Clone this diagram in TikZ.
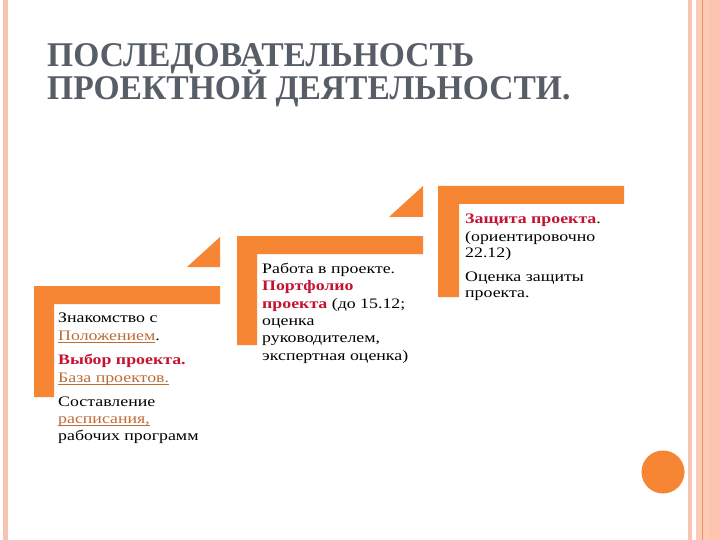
\documentclass[tikz,border=0pt]{standalone}
\usepackage{fontspec}
\usepackage{graphicx}
\newfontfamily\titlefont{Liberation Serif Bold}
\newfontfamily\bodyfont{Liberation Serif}
\definecolor{orng}{RGB}{246,134,52}
\definecolor{redb}{RGB}{196,18,48}
\definecolor{linkc}{RGB}{190,108,56}
\definecolor{titlegray}{RGB}{88,94,104}
\definecolor{stripe}{RGB}{247,196,180}
\definecolor{stripeb}{RGB}{252,202,182}
\definecolor{stripec}{RGB}{253,197,176}
\definecolor{stripeline}{RGB}{232,146,104}
\newsavebox{\lnkbox}
\newcommand{\lnk}[1]{\sbox{\lnkbox}{\color{linkc}#1}{\color{linkc}\rlap{\rule[-2.2pt]{\wd\lnkbox}{0.7pt}}}\usebox{\lnkbox}}
\newcommand{\hl}[1]{\textcolor{redb}{\titlefont #1}}
\newcommand{\sx}[1]{\scalebox{1.23}[1]{#1}}
\newcommand{\tx}[1]{\scalebox{0.967}[1]{#1}}
\tikzset{
  bodytxt/.style={anchor=base west, inner sep=0pt, font=\bodyfont\fontsize{14.5}{17}\selectfont},
  titletxt/.style={anchor=base west, inner sep=0pt, text=titlegray, font=\titlefont\fontsize{34.7}{40}\selectfont},
}
\begin{document}
\begin{tikzpicture}[x=1pt,y=-1pt]
\useasboundingbox (0,0) rectangle (720,540);
\fill[white] (0,0) rectangle (720,540);
% side stripes
\fill[stripe] (3.3,0) rectangle (8.3,540);
\fill[stripe] (688,0) rectangle (692,540);
\fill[stripeb] (696,0) rectangle (720,540);
\fill[stripec] (709,0) rectangle (720,540);
\fill[stripeline] (701.8,0) rectangle (702.8,540);
% title
\node[titletxt] (t1) at (47,67) {\tx{ПОСЛЕДОВАТЕЛЬНОСТЬ}};
\node[titletxt] (t2) at (47,100) {\tx{ПРОЕКТНОЙ ДЕЯТЕЛЬНОСТИ.}};
% step 1
\fill[orng] (34,397) -- (34,286) -- (220,286) -- (220,304) -- (54,304) -- (54,397) -- cycle;
\fill[orng] (187,267) -- (220,267) -- (220,237) -- cycle;
% step 2
\fill[orng] (237,345) -- (237,236) -- (423,236) -- (423,254) -- (257,254) -- (257,345) -- cycle;
\fill[orng] (389,217) -- (423,217) -- (423,186) -- cycle;
% step 3
\fill[orng] (438,297) -- (438,186) -- (624,186) -- (624,204) -- (459,204) -- (459,297) -- cycle;
% circle
\fill[orng] (663,472) circle (21.5);
% texts box 1
\node[bodytxt] (a1) at (58,322) {\sx{Знакомство с}};
\node[bodytxt] (a2) at (58,340) {\sx{\lnk{Положением}.}};
\node[bodytxt] (a3) at (58,364) {\sx{\hl{Выбор проекта.}}};
\node[bodytxt] (a4) at (58,382) {\sx{\lnk{База проектов.}}};
\node[bodytxt] (a5) at (58,406) {\sx{Составление}};
\node[bodytxt] (a6) at (58,423) {\sx{\lnk{расписания,}}};
\node[bodytxt] (a7) at (58,440) {\sx{рабочих программ}};
% texts box 2
\node[bodytxt] (b1) at (262,273) {\sx{Работа в проекте.}};
\node[bodytxt] (b2) at (262,290) {\sx{\hl{Портфолио}}};
\node[bodytxt] (b3) at (262,308) {\sx{\hl{проекта} (до 15.12;}};
\node[bodytxt] (b4) at (262,325) {\sx{оценка}};
\node[bodytxt] (b5) at (262,342) {\sx{руководителем,}};
\node[bodytxt] (b6) at (262,360) {\sx{экспертная оценка)}};
% texts box 3
\node[bodytxt] (c1) at (465,223) {\sx{\hl{Защита проекта}.}};
\node[bodytxt] (c2) at (465,241) {\sx{(ориентировочно}};
\node[bodytxt] (c3) at (465,257) {\sx{22.12)}};
\node[bodytxt] (c4) at (465,281) {\sx{Оценка защиты}};
\node[bodytxt] (c5) at (465,297) {\sx{проекта.}};
\end{tikzpicture}
\end{document}
